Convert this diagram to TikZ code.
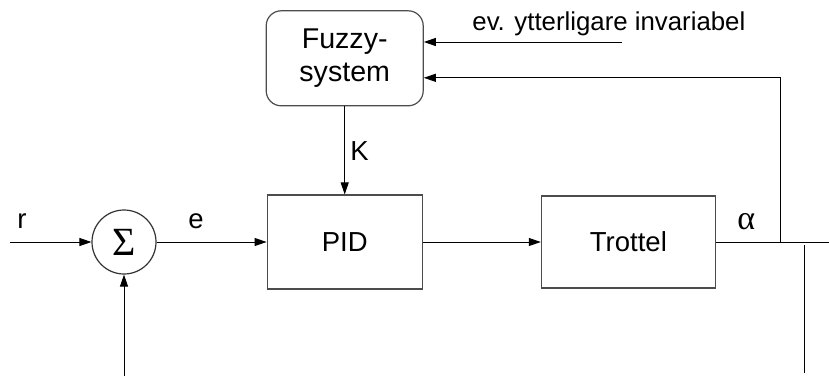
\documentclass[tikz,border=0pt]{standalone}
\usepackage{fontspec}
\setmainfont{Liberation Sans}
\newfontfamily\greekfont{Liberation Serif}
\usetikzlibrary{arrows.meta,positioning}

\begin{document}
\begin{tikzpicture}[
  block/.style={draw=black!70, line width=0.6pt, minimum width=77.5pt,
                minimum height=47pt, inner sep=0pt, align=center,
                font=\fontsize{13.75}{16.5}\selectfont},
  fuzzybox/.style={block, rounded corners=7.5pt, minimum width=78.5pt,
                   minimum height=47.5pt, font=\fontsize{14.3}{16.5}\selectfont},
  sumnode/.style={circle, draw=black!80, line width=0.6pt, minimum size=32pt,
                  inner sep=0pt, font=\greekfont\fontsize{20}{20}\selectfont},
  lbl/.style={inner sep=0pt, anchor=base west, font=\fontsize{13.75}{16}\selectfont},
  arrow/.style={-{Triangle[length=6pt,width=4pt]}, line width=0.5pt},
  wire/.style={line width=0.5pt}
]
\useasboundingbox (0,0) rectangle (414.5pt,188.5pt);
\node[sumnode] (sum) at (62pt,67.5pt) {Σ};
\node[block, right=55pt of sum] (pid) {PID};
\node[block, minimum width=87pt, minimum height=46pt, right=59pt of pid] (trottel) {Trottel};
\node[fuzzybox, above=44pt of pid] (fuzzy) {Fuzzy-\\system};
% free ends
\coordinate (rin) at (5pt,67.5pt);
\coordinate[below=50.5pt of sum] (yin);
\coordinate[right=32pt of trottel] (tap);
\coordinate[right=57pt of trottel] (out);
\coordinate (evin) at (311pt,167.5pt);
\coordinate (meastop) at (402pt,66pt);
\coordinate (measbot) at (402pt,2pt);
% labels
\node[lbl] (rlab) at (8.5pt,74.5pt) {r};
\node[lbl] (elab) at (94pt,74.5pt) {e};
\node[lbl] (klab) at (175pt,108.5pt) {K};
\node[lbl, font=\greekfont\fontsize{17}{17}\selectfont] (alab) at (368.5pt,74pt) {α};
\node[lbl, font=\fontsize{12.9}{15}\selectfont] (evlab) at (236pt,173.5pt) {ev. ytterligare invariabel};
% connectors
\draw[arrow] (rin) -- (sum);
\draw[arrow] (yin) -- (sum);
\draw[arrow] (sum) -- (pid);
\draw[arrow] (pid) -- (trottel);
\draw[arrow] (fuzzy) -- (pid);
\draw[wire] (trottel) -- (out);
\draw[arrow] (tap) |- ([yshift=-9.75pt]fuzzy.east);
\draw[arrow] (evin) -- (evin -| fuzzy.east);
\draw[wire] (meastop) -- (measbot);
\end{tikzpicture}
\end{document}
